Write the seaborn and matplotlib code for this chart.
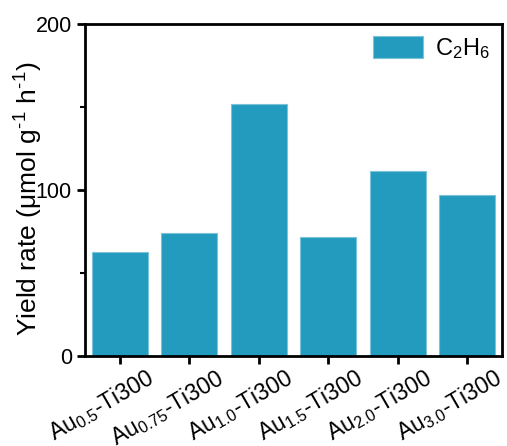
import matplotlib
matplotlib.use("Agg")
import matplotlib.pyplot as plt
import matplotlib.transforms as mtransforms
import seaborn as sns
import pandas as pd
from matplotlib.ticker import MultipleLocator

# Data
samples = [r"Au$_{0.5}$-Ti300", r"Au$_{0.75}$-Ti300", r"Au$_{1.0}$-Ti300",
           r"Au$_{1.5}$-Ti300", r"Au$_{2.0}$-Ti300", r"Au$_{3.0}$-Ti300"]
yield_rate = [62.5, 74, 152, 71.5, 111.5, 97]

df = pd.DataFrame({"sample": samples, "rate": yield_rate})

sns.set_style("ticks")
plt.rcParams["font.family"] = ["Liberation Sans", "DejaVu Sans"]
plt.rcParams["mathtext.fontset"] = "custom"
plt.rcParams["mathtext.rm"] = "Liberation Sans"
plt.rcParams["mathtext.it"] = "Liberation Sans"
plt.rcParams["mathtext.default"] = "regular"
for key in ["text.color", "axes.labelcolor", "xtick.color", "ytick.color"]:
    plt.rcParams[key] = "black"

fig = plt.figure(figsize=(5.07, 4.46), dpi=100)
ax = fig.add_axes([85 / 507, 1 - 356 / 446, 417 / 507, 332 / 446])

sns.barplot(data=df, x="sample", y="rate", color="#239BBE", width=0.8,
            edgecolor="#7cc3d8", linewidth=0.8, saturation=1, ax=ax,
            label=r"C$_2$H$_6$")

ax.set_xlim(-0.5, 5.5)
ax.set_ylim(0, 200)
ax.yaxis.set_major_locator(MultipleLocator(100))
ax.yaxis.set_minor_locator(MultipleLocator(50))

for s in ax.spines.values():
    s.set_linewidth(2)
    s.set_color("black")
ax.tick_params(which="major", direction="out", length=6, width=2, labelsize=15.5)
ax.tick_params(which="minor", direction="out", length=3.5, width=1.5)

ax.set_xticks(range(len(samples)))
ax.set_xticklabels(samples, rotation=30, ha="right", va="top",
                   rotation_mode="anchor", fontsize=16.5)
shift = mtransforms.ScaledTranslation(26 / 100, 4 / 100, fig.dpi_scale_trans)
for lab in ax.get_xticklabels():
    lab.set_transform(lab.get_transform() + shift)

ax.set_xlabel("")
ax.set_ylabel("Yield rate (μmol g$^{\u2010}$$^{1}$ h$^{\u2010}$$^{1}$)", fontsize=19)
ax.yaxis.set_label_coords(-0.095, 0.476)

ax.legend(loc="upper right", frameon=False, fontsize=17, handlelength=2.15,
          handleheight=1.1, handletextpad=0.5, borderaxespad=0.1)

fig.savefig("out.png", dpi=100)
